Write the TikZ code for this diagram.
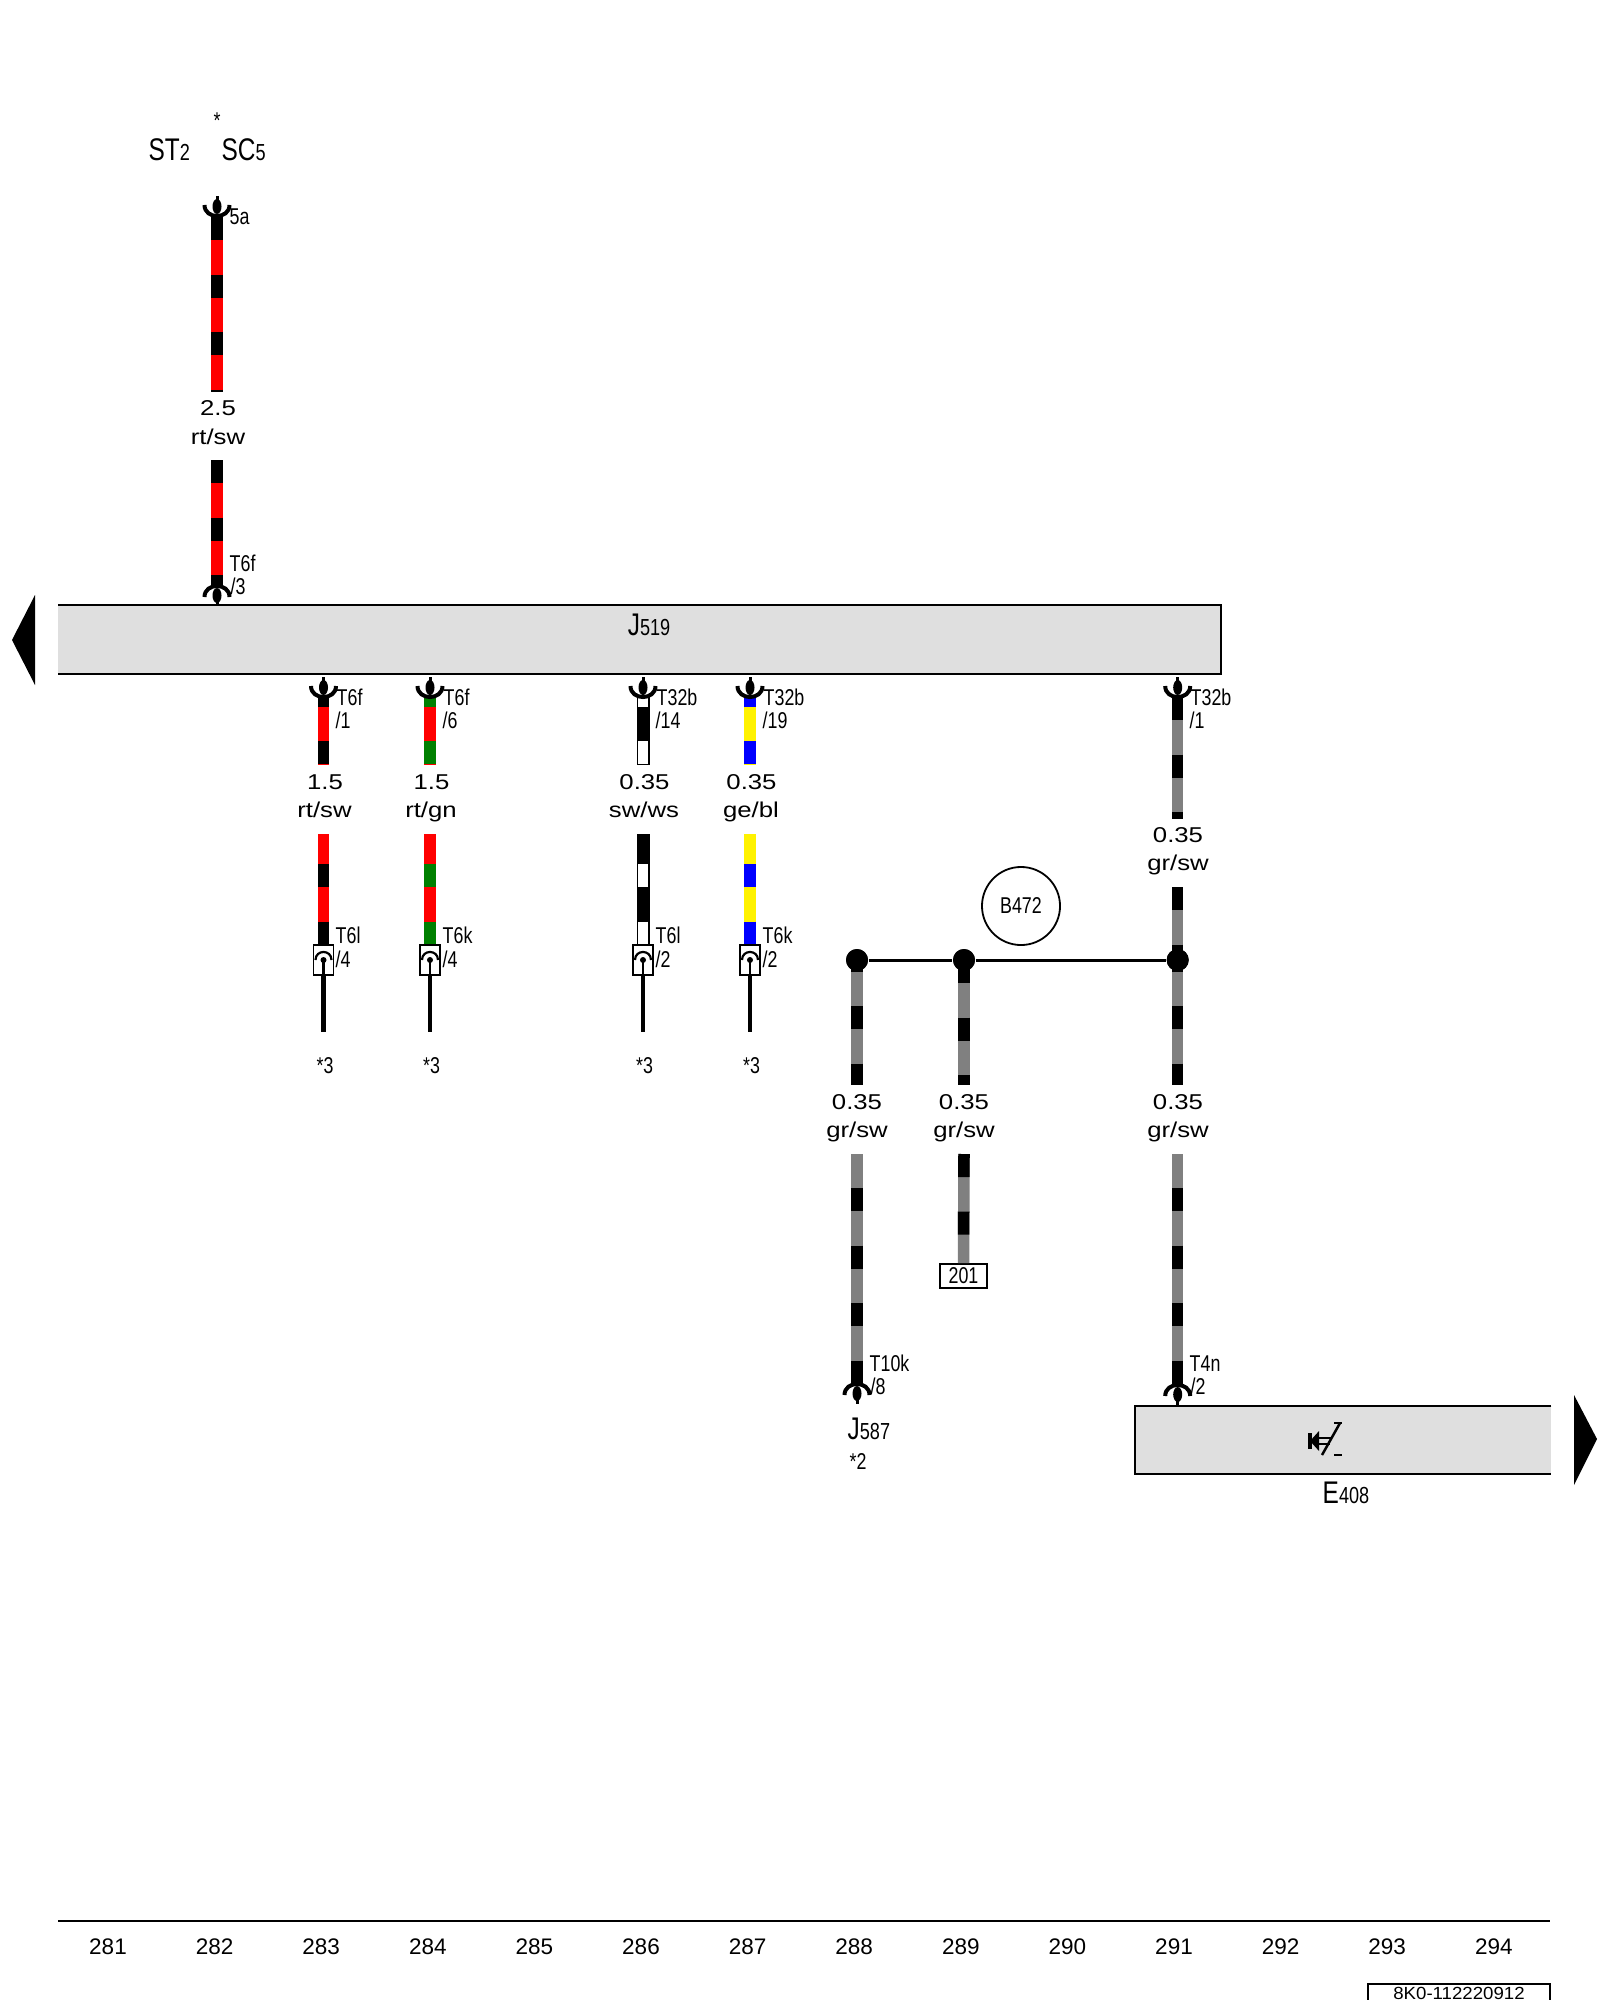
\documentclass[tikz,border=0pt]{standalone}
\usepackage{fontspec}
\setmainfont{Liberation Sans}
\newfontfamily\narrowfont[FakeStretch=0.78]{Liberation Sans}
\newfontfamily\widefont[FakeStretch=1.2]{Liberation Sans}
\newfontfamily\codefont[FakeStretch=1.06]{Liberation Sans}
\newcommand{\bigsmall}[2]{{\fontsize{8.9}{9}\selectfont #1}{\fontsize{6.6}{7}\selectfont #2}}
\newcommand{\wire}[5]{\draw[wire,#1] (#4) -- (#5); \draw[wire,#2,dash pattern=on 0.23cm off 0.345cm,dash phase=#3] (#4) -- (#5);}
\definecolor{unitfill}{HTML}{DFDFDF}
\definecolor{wiregray}{HTML}{808080}
\definecolor{wiregreen}{HTML}{008000}
\definecolor{wireblue}{HTML}{0000FF}
\tikzset{
  wire/.style={line width=0.115cm},
  ink/.style={black,line width=0.13cm},
  paper/.style={white,line width=0.1cm},
  pintext/.style={font=\fontsize{6.5}{7}\narrowfont,inner sep=0,anchor=base west},
  startext/.style={font=\fontsize{6.5}{7}\narrowfont,inner sep=0,anchor=base},
  wiretext/.style={font=\fontsize{6.1}{7}\widefont,inner sep=0,anchor=base},
  pagetext/.style={font=\fontsize{6.4}{7}\selectfont,inner sep=0,anchor=base},
  unitbox/.style={fill=unitfill,inner sep=0,outer sep=0,anchor=north west},
  edge/.style={line width=0.018cm},
  plug/.pic={
    \draw[line width=0.04cm] (-12.5,11) .. controls (-12.5,-3.7) and (12.5,-3.7) .. (12.5,11);
    \fill (0,9.5) ellipse [x radius=4.5,y radius=7.5];
    \draw[line width=0.03cm] (0,10) -- (0,20);
  },
  smallplug/.pic={
    \draw[line width=0.022cm] (-8,8) .. controls (-8,-2.7) and (8,-2.7) .. (8,8);
    \fill (0,8) circle [radius=3];
  },
}
\begin{document}
\begin{tikzpicture}[x=0.01cm,y=-0.01cm]
  \clip (0,0) rectangle (1600,2000);
  \node[unitbox,minimum width=11.62cm,minimum height=0.69cm] (j519) at (58,605) {};
  \draw[edge] (j519.north west) -- (j519.north east) -- (j519.south east) -- (j519.south west);
  \node[unitbox,minimum width=4.16cm,minimum height=0.68cm] (e408) at (1135,1406) {};
  \draw[edge] (e408.north east) -- (e408.north west) -- (e408.south west) -- (e408.south east);
  \fill (12,640) -- (35,595) -- (35,685) -- cycle;
  \fill (1597,1439) -- (1574,1395) -- (1574,1485) -- cycle;
  \node[startext] (star) at (217,129) {*};
  \node[pintext] (st2) at (148,160) {\bigsmall{ST}{2}};
  \node[pintext] (sc5) at (221,160) {\bigsmall{SC}{5}};
  \node[pintext,anchor=base] (j519name) at (649,635) {\bigsmall{J}{519}};
  \coordinate (a1t) at (217,217);
  \coordinate (a1b) at (217,392);
  \coordinate (a2t) at (217,460);
  \coordinate (a2b) at (217,588);
  \wire{red}{black}{0}{a1t}{a1b}
  \wire{red}{black}{0}{a2t}{a2b}
  \pic[yscale=-1] at (217,216) {plug};
  \pic at (217,586) {plug};
  \node[pintext] (p5a) at (229,225) {5a};
  \node[pintext] (t6fa) at (229,571) {T6f};
  \node[pintext] (t6fb) at (230,594) {/3};
  \node[wiretext] (sa) at (218,415) {2.5};
  \node[wiretext] (ca) at (218,444) {rt/sw};
  \foreach \nm/\x/\base/\stripe/\size/\cname/\up/\upnr/\upx/\low/\lownr/\lowx in {
    wa/323.5/red/black/1.5/rt\slash sw/T6f/1/336/T6l/4/335,
    wb/430/red/wiregreen/1.5/rt\slash gn/T6f/6/443/T6k/4/442,
    wc/643/ink/paper/0.35/sw\slash ws/T32b/14/656/T6l/2/655,
    wd/750/yellow/wireblue/0.35/ge\slash bl/T32b/19/763/T6k/2/762}{
    \coordinate (\nm a) at (\x,697);
    \coordinate (\nm b) at (\x,765);
    \coordinate (\nm c) at (\x,834);
    \coordinate (\nm d) at (\x,945);
    \wire{\base}{\stripe}{0.135cm}{\nm a}{\nm b}
    \wire{\base}{\stripe}{0.275cm}{\nm c}{\nm d}
    \pic[yscale=-1] at (\nm a) {plug};
    \node[draw,edge,minimum width=0.2cm,minimum height=0.3cm,inner sep=0,fill=white] (\nm box) at (\x,960) {};
    \pic at (\x,952) {smallplug};
    \coordinate (\nm end) at (\x,1032);
    \draw[line width=0.025cm] (\x,960) -- (\nm box.south);
    \draw[line width=0.045cm] (\nm box.south) -- (\nm end);
    \node[pintext] (\nm up) at (\upx,705) {\up};
    \node[pintext] (\nm upnr) at (\upx-1,728) {/\upnr};
    \node[pintext] (\nm low) at (\lowx,943) {\low};
    \node[pintext] (\nm lownr) at (\lowx,967) {/\lownr};
    \node[wiretext] (\nm size) at (\x+1.5,789) {\size};
    \node[wiretext] (\nm name) at (\x+1,817) {\cname};
    \node[startext] (\nm star) at (\x+1.5,1073) {*3};
  }
  \node[circle,draw,edge,minimum size=0.78cm,inner sep=0] (b472) at (1021,906) {};
  \node[pintext,anchor=base] (b472name) at (1021,913) {B472};
  \coordinate (e1t) at (1177.7,697);
  \coordinate (e1b) at (1177.7,819);
  \coordinate (e2t) at (1177.7,887);
  \node[circle,fill=black,minimum size=0.22cm,inner sep=0] (nl) at (857,960) {};
  \node[circle,fill=black,minimum size=0.22cm,inner sep=0] (nm) at (964,960) {};
  \node[circle,fill=black,minimum size=0.22cm,inner sep=0] (nr) at (1177.7,960) {};
  \wire{wiregray}{black}{0}{e1t}{e1b}
  \wire{wiregray}{black}{0}{e2t}{nr.center}
  \coordinate (lb) at (857,1085);
  \coordinate (mb) at (964,1085);
  \coordinate (rb) at (1177.7,1085);
  \wire{wiregray}{black}{0.115cm}{nl.center}{lb}
  \wire{wiregray}{black}{0}{nm.center}{mb}
  \wire{wiregray}{black}{0.115cm}{nr.center}{rb}
  \foreach \n in {nl,nm,nr}{\fill (\n) circle [radius=11];}
  \draw[line width=0.03cm] (nl) -- (nm) -- (nr);
  \coordinate (lc) at (857,1154);
  \coordinate (ld) at (857,1385);
  \coordinate (mc) at (964,1154);
  \coordinate (rc) at (1177.7,1154);
  \coordinate (rd) at (1177.7,1385);
  \node[draw,edge,inner sep=0,minimum width=0.47cm,minimum height=0.24cm,font=\fontsize{6.5}{7}\narrowfont] (n201) at (963.5,1276) {201};
  \wire{wiregray}{black}{0.235cm}{lc}{ld}
  \wire{wiregray}{black}{0}{mc}{n201.north}
  \wire{wiregray}{black}{0.235cm}{rc}{rd}
  \pic at (857,1384) {plug};
  \pic at (1177.7,1385) {plug};
  \pic[yscale=-1] at (e1t) {plug};
  \node[pintext] (t32e) at (1190,705) {T32b};
  \node[pintext] (t32enr) at (1189,728) {/1};
  \node[wiretext] (se) at (1178,842) {0.35};
  \node[wiretext] (ce) at (1178,870) {gr/sw};
  \foreach \nm/\x in {l/857,m/964,r/1178}{
    \node[wiretext] (s\nm) at (\x,1109) {0.35};
    \node[wiretext] (c\nm) at (\x,1137) {gr/sw};
  }
  \node[pintext] (t10k) at (869,1371) {T10k};
  \node[pintext] (t10knr) at (870,1394) {/8};
  \node[pintext] (j587) at (847,1439) {\bigsmall{J}{587}};
  \node[startext,anchor=base west] (star2) at (849,1469) {*2};
  \node[pintext] (t4n) at (1189,1371) {T4n};
  \node[pintext] (t4nnr) at (1190,1394) {/2};
  \node[pintext] (e408name) at (1322,1503) {\bigsmall{E}{408}};
  \fill (1308,1433) rectangle (1312,1449);
  \fill (1310,1441) -- (1319,1431) -- (1319,1451) -- cycle;
  \draw[line width=0.014cm] (1315,1438) -- (1332,1438) (1315,1444) -- (1330,1444);
  \draw[line width=0.025cm] (1322,1455) -- (1340,1423);
  \draw[line width=0.022cm] (1334,1423) -- (1342,1423) (1334,1455) -- (1342,1455);
  \coordinate (axisl) at (58,1921);
  \coordinate (axisr) at (1550,1921);
  \draw[line width=0.022cm] (axisl) -- (axisr);
  \foreach \nr [count=\i from 0] in {281,...,294}{
    \node[pagetext] (col\nr) at (108+106.6*\i,1954) {\nr};
  }
  \coordinate (bl) at (1368,2010);
  \coordinate (br) at (1550,2010);
  \draw[edge] (bl) |- (br |- 0,1984) -- (br);
  \node[pagetext,font=\fontsize{5}{6}\codefont] (drawingnr) at (1459,1999) {8K0-112220912};
\end{tikzpicture}
\end{document}
